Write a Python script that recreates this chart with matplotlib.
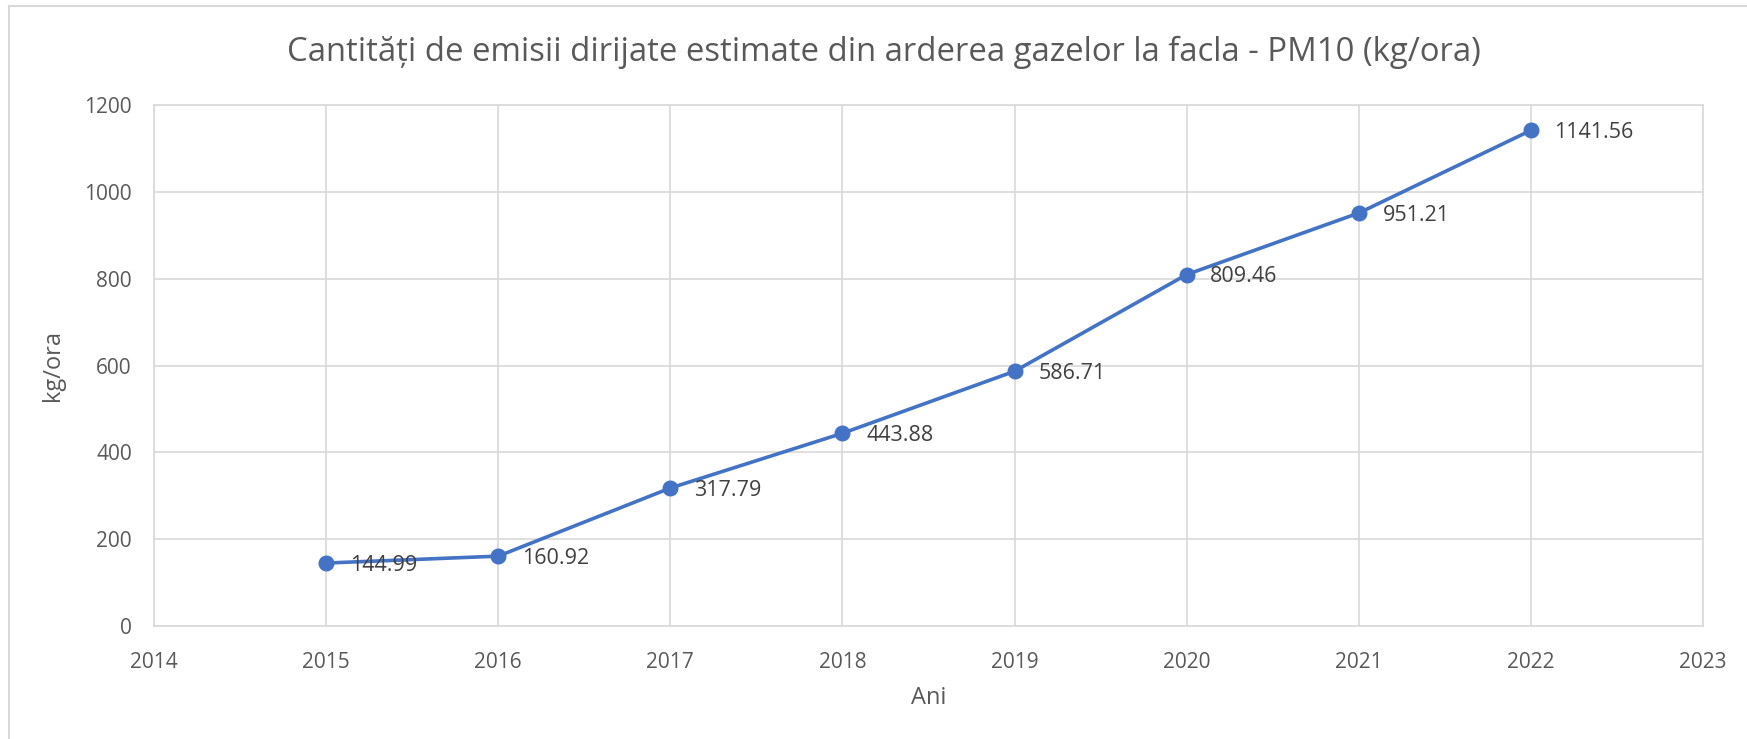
import matplotlib
matplotlib.use("Agg")
import matplotlib.pyplot as plt
from matplotlib.lines import Line2D

years = [2015, 2016, 2017, 2018, 2019, 2020, 2021, 2022]
values = [144.99, 160.92, 317.79, 443.88, 586.71, 809.46, 951.21, 1141.56]
labels = ["144.99", "160.92", "317.79", "443.88", "586.71", "809.46", "951.21", "1141.56"]
x_ticks = list(range(2014, 2024))
y_ticks = [0, 200, 400, 600, 800, 1000, 1200]

title = "Cantități de emisii dirijate estimate din arderea gazelor la facla - PM10 (kg/ora)"

plt.rcParams['font.family'] = ['Open Sans', 'DejaVu Sans']

fig = plt.figure(figsize=(17.47, 7.39), dpi=100)
ax = fig.add_axes([154/1747, 1-626/739, (1703-154)/1747, (626-105)/739])

grid_c = "#D9D9D9"
txt_c = "#595959"
blue = "#4472C4"

ax.plot(years, values, color=blue, lw=2.6, marker='o', ms=10.5, zorder=3)
for x, y, s in zip(years, values, labels):
    ax.annotate(s, (x, y), xytext=(17, -1.5), textcoords='offset points',
                ha='left', va='center', fontsize=15.5, color="#404040", zorder=4)

ax.set_xlim(2014, 2023)
ax.set_ylim(0, 1200)
ax.set_xticks(x_ticks)
ax.set_yticks(y_ticks)
ax.grid(True, color=grid_c, lw=1.2, zorder=0)
for sp in ax.spines.values():
    sp.set_color(grid_c)
    sp.set_linewidth(1.2)
ax.tick_params(length=0, labelsize=15, labelcolor=txt_c)
ax.tick_params(axis='x', pad=19)
ax.tick_params(axis='y', pad=16)
ax.set_xlabel("Ani", fontsize=17, color=txt_c, labelpad=9)
ax.set_ylabel("kg/ora", fontsize=17, color=txt_c, labelpad=14)

fig.text(884/1747, 1-52/739, title, ha='center', va='center', fontsize=23.7, color=txt_c)

# outer chart border (partially visible)
fig.add_artist(Line2D([9/1747, 1], [1-6/739, 1-6/739], transform=fig.transFigure, color=grid_c, lw=1.5))
fig.add_artist(Line2D([9/1747, 9/1747], [0, 1-6/739], transform=fig.transFigure, color=grid_c, lw=1.5))

fig.savefig("out.png", dpi=100)
